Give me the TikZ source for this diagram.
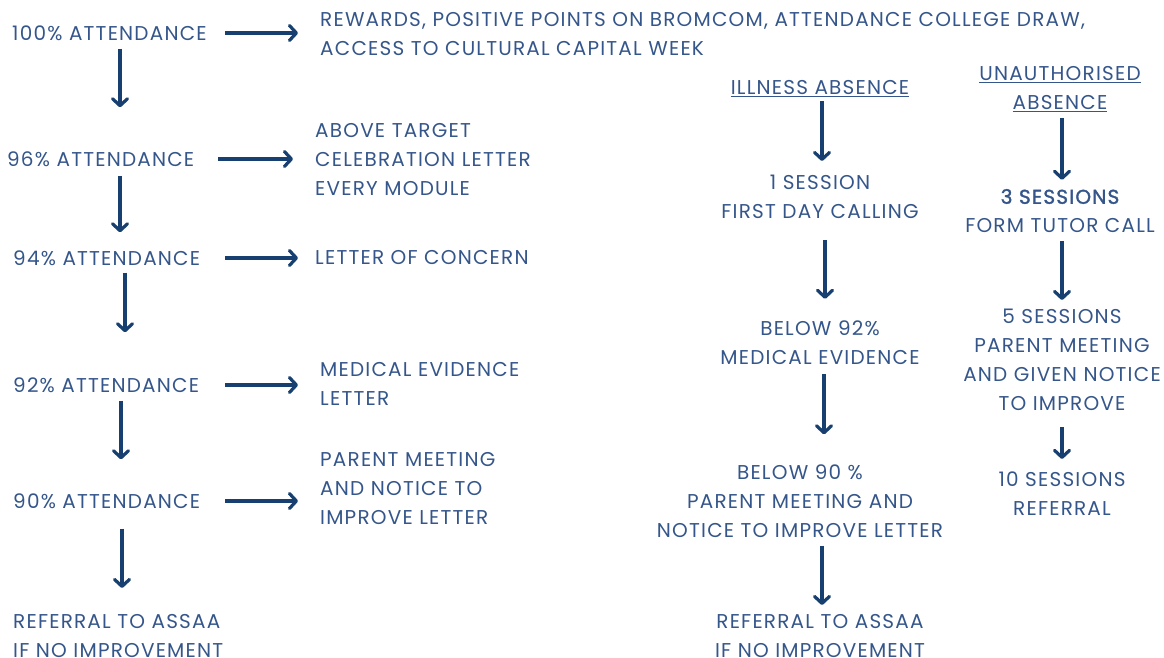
\documentclass[tikz,border=0pt]{standalone}
\usepackage{fontspec}
\setmainfont{Poppins}[LetterSpace=6]
\newfontfamily\semibold{Poppins}[LetterSpace=6, FakeBold=1.6]
\usetikzlibrary{arrows.meta}
\definecolor{navytext}{HTML}{35568A}
\definecolor{navyarrow}{HTML}{173F70}
\tikzset{
  lbl/.style={inner sep=0pt, text=navytext, font=\fontsize{20}{29}\selectfont},
  arr/.style={navyarrow, line width=3.2pt,
    -{Straight Barb[length=7pt,width=15pt,line cap=round,line join=round]}},
}
\begin{document}
\begin{tikzpicture}[x=1pt, y=-1pt]
  \useasboundingbox (0,0) rectangle (1164,658);

  % Attendance levels
  \node[lbl, anchor=west] (a100) at (12,33) {100\% ATTENDANCE};
  \node[lbl, anchor=west] (a96) at (7,159) {96\% ATTENDANCE};
  \node[lbl, anchor=west] (a94) at (13,258) {94\% ATTENDANCE};
  \node[lbl, anchor=west] (a92) at (13,385) {92\% ATTENDANCE};
  \node[lbl, anchor=west] (a90) at (13,501) {90\% ATTENDANCE};
  \node[lbl, anchor=north west, align=left] (aref) at (13,614)
    {REFERRAL TO ASSAA\\IF NO IMPROVEMENT};

  % Actions
  \node[lbl, anchor=west, align=left] (r100) at (320,34)
    {REWARDS, POSITIVE POINTS ON BROMCOM, ATTENDANCE COLLEGE DRAW,\\ACCESS TO CULTURAL CAPITAL WEEK};
  \node[lbl, anchor=west, align=left] (r96) at (315,160)
    {ABOVE TARGET\\CELEBRATION LETTER\\EVERY MODULE};
  \node[lbl, anchor=west] (r94) at (315,258) {LETTER OF CONCERN};
  \node[lbl, anchor=west, align=left] (r92) at (320,384)
    {MEDICAL EVIDENCE\\LETTER};
  \node[lbl, anchor=west, align=left] (r90) at (320,489)
    {PARENT MEETING\\AND NOTICE TO\\IMPROVE LETTER};

  % Illness absence
  \node[lbl] (ill) at (820,89) {\underline{ILLNESS ABSENCE}};
  \node[lbl, align=center] (ill1) at (820,197) {1 SESSION\\FIRST DAY CALLING};
  \node[lbl, align=center] (ill2) at (820,343) {BELOW 92\%\\MEDICAL EVIDENCE};
  \node[lbl, align=center] (ill3) at (800,501)
    {BELOW 90 \%\\PARENT MEETING AND\\NOTICE TO IMPROVE LETTER};
  \node[lbl, anchor=north, align=center] (ill4) at (820,614)
    {REFERRAL TO ASSAA\\IF NO IMPROVEMENT};

  % Unauthorised absence
  \node[lbl, align=center] (una) at (1060,89)
    {\underline{UNAUTHORISED}\\\underline{ABSENCE}};
  \node[lbl, align=center] (una1) at (1060,211)
    {{\semibold 3 SESSIONS}\\FORM TUTOR CALL};
  \node[lbl, align=center] (una2) at (1062,360)
    {5 SESSIONS\\PARENT MEETING\\AND GIVEN NOTICE\\TO IMPROVE};
  \node[lbl, align=center] (una3) at (1062,494) {10 SESSIONS\\REFERRAL};

  % Horizontal arrows
  \draw[arr, shorten <=18pt, shorten >=22pt] (a100.east) -- (r100.west |- a100.east);
  \draw[arr, shorten <=24pt, shorten >=22pt] (a96.east) -- (r96.west |- a96.east);
  \draw[arr, shorten <=25pt, shorten >=17pt] (a94.east) -- (r94.west |- a94.east);
  \draw[arr, shorten <=26pt, shorten >=22pt] (a92.east) -- (r92.west |- a92.east);
  \draw[arr, shorten <=25pt, shorten >=22pt] (a90.east) -- (r90.west |- a90.east);

  % Vertical arrows, attendance
  \draw[arr, shorten <=8pt, shorten >=44pt] ([xshift=108pt]a100.south west) -- ([xshift=108pt]a100.south west |- a96.north);
  \draw[arr, shorten <=9pt, shorten >=18pt] ([xshift=113pt]a96.south west) -- ([xshift=113pt]a96.south west |- a94.north);
  \draw[arr, shorten <=7pt, shorten >=45pt] ([xshift=112pt]a94.south west) -- ([xshift=112pt]a94.south west |- a92.north);
  \draw[arr, shorten <=8pt, shorten >=34pt] ([xshift=108pt]a92.south west) -- ([xshift=108pt]a92.south west |- a90.north);
  \draw[arr, shorten <=20pt, shorten >=26pt] ([xshift=109pt]a90.south west) -- ([xshift=109pt]a90.south west |- aref.north);

  % Vertical arrows, illness
  \draw[arr, shorten <=4pt, shorten >=14pt] ([xshift=2pt]ill.south) -- ([xshift=2pt]ill.south |- ill1.north);
  \draw[arr, shorten <=21pt, shorten >=22pt] ([xshift=5pt]ill1.south) -- ([xshift=5pt]ill1.south |- ill2.north);
  \draw[arr, shorten <=9pt, shorten >=30pt] ([xshift=4pt]ill2.south) -- ([xshift=4pt]ill2.south |- ill3.north);
  \draw[arr, shorten <=8pt, shorten >=9pt] ([xshift=22pt]ill3.south) -- ([xshift=22pt]ill3.south |- ill4.north);

  % Vertical arrows, unauthorised
  \draw[arr, shorten <=6pt, shorten >=9pt] ([xshift=2pt]una.south) -- ([xshift=2pt]una.south |- una1.north);
  \draw[arr, shorten <=8pt, shorten >=9pt] ([xshift=2pt]una1.south) -- ([xshift=2pt]una1.south |- una2.north);
  \draw[arr, shorten <=16pt, shorten >=13pt] (una2.south) -- (una2.south |- una3.north);
\end{tikzpicture}
\end{document}
